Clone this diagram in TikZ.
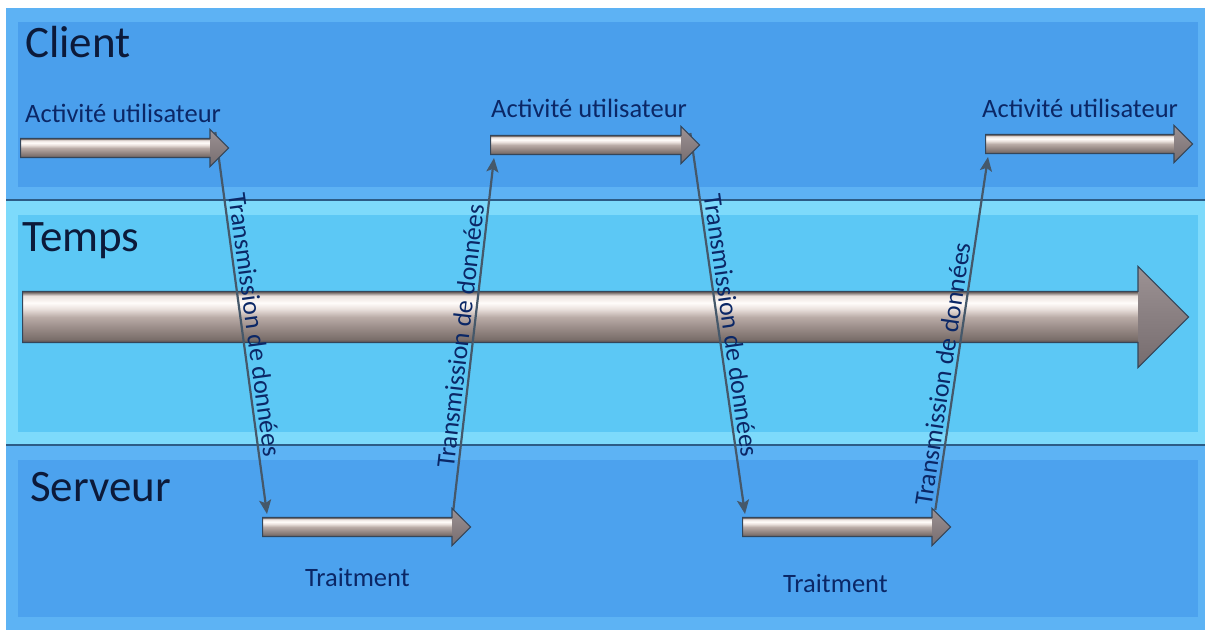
\documentclass[tikz,border=0pt]{standalone}
\usepackage{fontspec}
\setmainfont{Carlito}
\usetikzlibrary{shapes.arrows,arrows.meta,calc}

% lane colours
\definecolor{cedge}{HTML}{5DB2F4}
\definecolor{cbase}{HTML}{4A9FEC}
\definecolor{tedge}{HTML}{7DDAFB}
\definecolor{tbase}{HTML}{5CC8F5}
\definecolor{sedge}{HTML}{5DB3F4}
\definecolor{sbase}{HTML}{4CA2EE}
\definecolor{laneline}{HTML}{2C5C86}
% text and connector colours
\definecolor{titlec}{HTML}{0C1A3A}
\definecolor{labelc}{HTML}{0B2766}
\definecolor{connc}{HTML}{45586A}
% metallic arrow colours
\definecolor{outline}{HTML}{34465A}
\definecolor{bardark}{HTML}{5E5452}
\definecolor{barlow}{HTML}{7A6E6A}
\definecolor{barmid}{HTML}{9C8E8A}
\definecolor{barup}{HTML}{BAACA7}
\definecolor{barlight}{HTML}{EAE1DD}
\definecolor{barwhite}{HTML}{FFFCFA}
\definecolor{headtop}{HTML}{9C9294}
\definecolor{headbot}{HTML}{766C6E}

% bar shading: body fills the middle half of the node height
\pgfdeclareverticalshading{metalbar}{100bp}{%
  color(0bp)=(bardark); color(37.5bp)=(bardark);
  color(39bp)=(barlow); color(45bp)=(barmid); color(50bp)=(barup);
  color(54bp)=(barlight); color(57bp)=(barwhite); color(60.5bp)=(barlight);
  color(62.5bp)=(bardark); color(100bp)=(bardark)}

\pgfdeclarelayer{back}
\pgfdeclarelayer{links}
\pgfsetlayers{back,links,main}

\tikzset{
  flowarrow/.style={shape=single arrow, draw=outline, line width=1.1pt,
    shade, shading=metalbar, inner xsep=0pt, inner ysep=#1,
    single arrow head extend=#1, single arrow tip angle=90, anchor=tail,
    path picture={\shade[top color=headtop, bottom color=headbot]
      ([xshift=-2*#1]path picture bounding box.north east)
      rectangle (path picture bounding box.south east);}},
  lanetitle/.style={anchor=base west, inner sep=0pt, text=titlec,
    font=\fontsize{45}{54}\selectfont},
  steplabel/.style={anchor=base west, inner sep=0pt, text=labelc,
    font=\fontsize{26.5}{32}\selectfont},
  conn/.style={draw=connc, line width=2.2pt,
    -{Stealth[length=14pt,width=12pt,inset=3pt]}},
  translabel/.style={sloped, above, inner sep=3pt, text=labelc,
    font=\fontsize{26}{31}\selectfont},
}

\begin{document}
\begin{tikzpicture}[x=1pt,y=1pt]
\useasboundingbox (0,0) rectangle (1211,637);

\begin{pgfonlayer}{back}
  \fill[white] (0,0) rectangle (1211,637);
  % Client lane
  \fill[cedge] (6,437) rectangle (1205,629);
  \fill[cbase] (18,450) rectangle (1198,615);
  % Temps lane
  \fill[tedge] (6,192) rectangle (1205,437);
  \fill[tbase] (18,205) rectangle (1198,422);
  % Serveur lane
  \fill[sedge] (6,7) rectangle (1205,192);
  \fill[sbase] (18,20) rectangle (1198,177);
  \draw[laneline, line width=1.5pt] (6,437) -- (1205,437);
  \draw[laneline, line width=1.5pt] (6,192) -- (1205,192);
  % time axis
  \node[flowarrow=25pt, minimum height=1166pt] (time) at (22,320) {};
\end{pgfonlayer}

% lane titles
\node[lanetitle] (tclient) at (25,579) {Client};
\node[lanetitle] (ttemps) at (22,385) {Temps};
\node[lanetitle] (tserveur) at (30,135) {Serveur};

% client activity bars
\node[flowarrow=9pt, minimum height=208pt] (c1) at (20,489) {};
\node[flowarrow=9pt, minimum height=209pt] (c2) at (490,492) {};
\node[flowarrow=9pt, minimum height=207pt] (c3) at (985,493) {};
% server processing bars
\node[flowarrow=9pt, minimum height=208pt] (s1) at (262,110) {};
\node[flowarrow=9pt, minimum height=208pt] (s2) at (742,110) {};

\node[steplabel] (a1) at (25,514) {Activité utilisateur};
\node[steplabel] (a2) at (491,519) {Activité utilisateur};
\node[steplabel] (a3) at (982,519) {Activité utilisateur};
\node[steplabel] (p1) at (305,50) {Traitment};
\node[steplabel] (p2) at (783,44) {Traitment};

% data transfers between client and server
\begin{pgfonlayer}{links}
  \draw[conn] ($(c1.tip)+(-14,16)$) --
    node[translabel, pos=.51] (m1) {Transmission de données} ($(s1.tail)+(5,13)$);
  \draw[conn] ($(s1.tip)+(-18,17)$) --
    node[translabel, pos=.49] (m2) {Transmission de données} ($(c2.tail)+(4,-13)$);
  \draw[conn] ($(c2.tip)+(-10,12)$) --
    node[translabel, pos=.51] (m3) {Transmission de données} ($(s2.tail)+(3,13)$);
  \draw[conn] ($(s2.tip)+(-16,17)$) --
    node[translabel, pos=.38] (m4) {Transmission de données} ($(c3.tail)+(3,-13)$);
\end{pgfonlayer}
\end{tikzpicture}
\end{document}
